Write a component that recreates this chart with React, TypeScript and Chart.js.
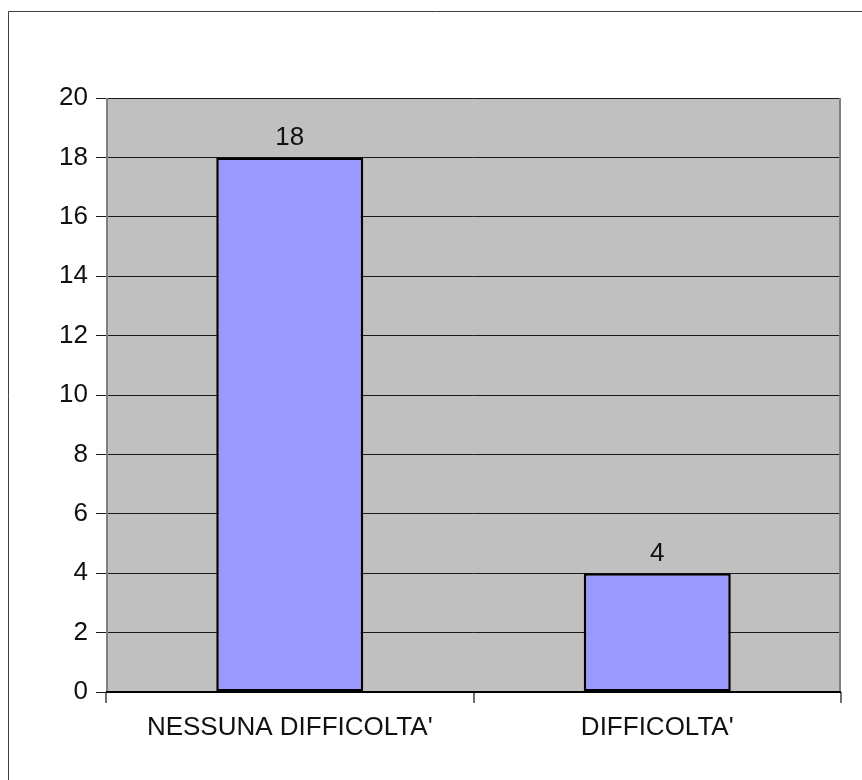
import React, { useEffect, useRef } from "react";
import { Chart, registerables } from "chart.js";

Chart.register(...registerables);

const categories: string[] = ["NESSUNA DIFFICOLTA'", "DIFFICOLTA'"];
const values: number[] = [18, 4];
const yMin = 0;
const yMax = 20;
const yStep = 2;

const FONT = "'Liberation Sans', Arial, sans-serif";
const FONT_SIZE = 26;

const framePlugin = {
  id: "framePlugin",
  beforeDraw(chart: any) {
    const { ctx, chartArea } = chart;
    ctx.save();
    ctx.fillStyle = "#ffffff";
    ctx.fillRect(0, 0, chart.width, chart.height);
    ctx.fillStyle = "#c0c0c0";
    ctx.fillRect(chartArea.left, chartArea.top, chartArea.right - chartArea.left, chartArea.bottom - chartArea.top);
    // outer frame (top and left)
    ctx.strokeStyle = "#404040";
    ctx.lineWidth = 1;
    ctx.beginPath();
    ctx.moveTo(8.5, chart.height);
    ctx.lineTo(8.5, 11.5);
    ctx.lineTo(chart.width, 11.5);
    ctx.stroke();
    ctx.restore();
  },
  afterDatasetsDraw(chart: any) {
    const { ctx, chartArea } = chart;
    ctx.save();
    // side borders
    ctx.strokeStyle = "#808080";
    ctx.lineWidth = 2;
    ctx.beginPath();
    ctx.moveTo(chartArea.left + 1, chartArea.top);
    ctx.lineTo(chartArea.left + 1, chartArea.bottom);
    ctx.moveTo(chartArea.right - 1, chartArea.top);
    ctx.lineTo(chartArea.right - 1, chartArea.bottom);
    ctx.stroke();
    // bottom axis
    ctx.strokeStyle = "#000000";
    ctx.lineWidth = 2;
    ctx.beginPath();
    ctx.moveTo(chartArea.left, chartArea.bottom);
    ctx.lineTo(chartArea.right, chartArea.bottom);
    ctx.stroke();
    // data labels
    const meta = chart.getDatasetMeta(0);
    ctx.fillStyle = "#111111";
    ctx.font = `${FONT_SIZE}px ${FONT}`;
    ctx.textAlign = "center";
    ctx.textBaseline = "alphabetic";
    meta.data.forEach((bar: any, i: number) => {
      ctx.fillText(String(values[i]), bar.x, bar.y - 12.5);
    });
    ctx.restore();
  },
};

export default function App() {
  const ref = useRef<HTMLCanvasElement | null>(null);

  useEffect(() => {
    if (!ref.current) return;
    const chart = new Chart(ref.current, {
      type: "bar",
      data: {
        labels: categories,
        datasets: [
          {
            data: values,
            backgroundColor: "#9999ff",
            borderColor: "#000000",
            borderWidth: 2.5,
            borderSkipped: false,
            barPercentage: 0.4,
            categoryPercentage: 1,
          },
        ],
      },
      options: {
        animation: false,
        responsive: false,
        devicePixelRatio: 1,
        layout: { padding: { left: 0, top: 98, right: 21, bottom: 0 } },
        plugins: {
          legend: { display: false },
          tooltip: { enabled: false },
          title: { display: false },
        },
        scales: {
          x: {
            offset: true,
            grid: {
              offset: true,
              drawOnChartArea: false,
              drawTicks: true,
              tickLength: 11,
              color: "#707070",
              lineWidth: 2,
            },
            border: { display: false },
            ticks: {
              color: "#111111",
              font: { family: FONT, size: FONT_SIZE },
              padding: 9,
              maxRotation: 0,
              autoSkip: false,
            },
            afterFit(scale: any) {
              scale.height = 88;
            },
          },
          y: {
            min: yMin,
            max: yMax,
            grid: {
              color: "#1a1a1a",
              lineWidth: 1,
              tickLength: 10,
              drawTicks: true,
            },
            border: { display: false },
            ticks: {
              stepSize: yStep,
              color: "#111111",
              font: { family: FONT, size: FONT_SIZE },
              padding: 8,
            },
            afterFit(scale: any) {
              scale.width = 106;
            },
          },
        },
      },
      plugins: [framePlugin],
    });
    return () => chart.destroy();
  }, []);

  return (
    <div style={{ position: "absolute", left: 0, top: 0, width: 862, height: 780 }}>
      <canvas ref={ref} width={862} height={780} style={{ display: "block", width: 862, height: 780 }} />
    </div>
  );
}
